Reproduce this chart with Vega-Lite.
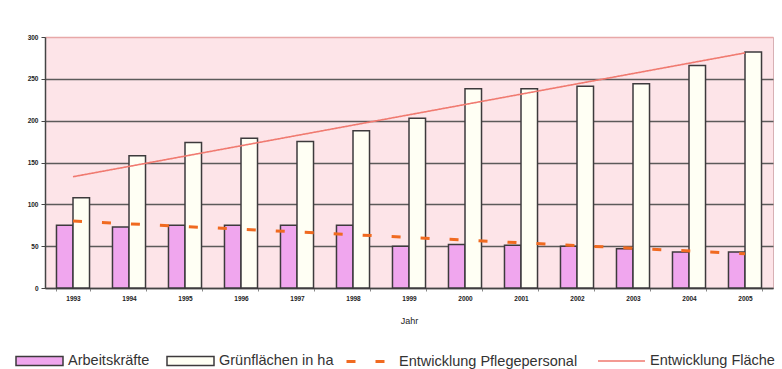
{
  "$schema": "https://vega.github.io/schema/vega-lite/v6.json",
  "width": 728,
  "height": 251,
  "autosize": {"type": "none"},
  "padding": {"left": 45, "top": 37, "right": 9, "bottom": 81},
  "background": "#ffffff",
  "config": {
    "font": "Liberation Sans",
    "view": {"fill": "#fde4e8", "stroke": "#d8b0b4", "strokeWidth": 1},
    "legend": {
      "orient": "none",
      "direction": "horizontal",
      "title": null,
      "padding": 0,
      "symbolSize": 2209,
      "labelFontSize": 14.5,
      "labelColor": "#333",
      "labelOffset": 4,
      "labelLimit": 400,
      "columnPadding": 14,
      "symbolOpacity": 1
    }
  },
  "resolve": {"scale": {"strokeDash": "independent"}, "legend": {"strokeDash": "independent"}},
  "datasets": {
    "bars": [
      {"year": 1993, "series": "Arbeitskräfte", "value": 75},
      {"year": 1994, "series": "Arbeitskräfte", "value": 73},
      {"year": 1995, "series": "Arbeitskräfte", "value": 75},
      {"year": 1996, "series": "Arbeitskräfte", "value": 75},
      {"year": 1997, "series": "Arbeitskräfte", "value": 75},
      {"year": 1998, "series": "Arbeitskräfte", "value": 75},
      {"year": 1999, "series": "Arbeitskräfte", "value": 50},
      {"year": 2000, "series": "Arbeitskräfte", "value": 52},
      {"year": 2001, "series": "Arbeitskräfte", "value": 51},
      {"year": 2002, "series": "Arbeitskräfte", "value": 50},
      {"year": 2003, "series": "Arbeitskräfte", "value": 47},
      {"year": 2004, "series": "Arbeitskräfte", "value": 43},
      {"year": 2005, "series": "Arbeitskräfte", "value": 43},
      {"year": 1993, "series": "Grünflächen in ha", "value": 108},
      {"year": 1994, "series": "Grünflächen in ha", "value": 158},
      {"year": 1995, "series": "Grünflächen in ha", "value": 174},
      {"year": 1996, "series": "Grünflächen in ha", "value": 179},
      {"year": 1997, "series": "Grünflächen in ha", "value": 175},
      {"year": 1998, "series": "Grünflächen in ha", "value": 188},
      {"year": 1999, "series": "Grünflächen in ha", "value": 203},
      {"year": 2000, "series": "Grünflächen in ha", "value": 238},
      {"year": 2001, "series": "Grünflächen in ha", "value": 238},
      {"year": 2002, "series": "Grünflächen in ha", "value": 241},
      {"year": 2003, "series": "Grünflächen in ha", "value": 244},
      {"year": 2004, "series": "Grünflächen in ha", "value": 266},
      {"year": 2005, "series": "Grünflächen in ha", "value": 282}
    ],
    "trends": [
      {"year": 1993, "trend": "Entwicklung Pflegepersonal", "value": 80},
      {"year": 2005, "trend": "Entwicklung Pflegepersonal", "value": 41},
      {"year": 1993, "trend": "Entwicklung Fläche", "value": 133},
      {"year": 2005, "trend": "Entwicklung Fläche", "value": 281}
    ]
  },
  "layer": [
    {
      "data": {"name": "bars"},
      "mark": {"type": "bar", "stroke": "#3d3a3c", "strokeWidth": 1.5},
      "encoding": {
        "x": {
          "field": "year",
          "type": "ordinal",
          "scale": {"paddingInner": 0.41, "paddingOuter": 0.205},
          "axis": {
            "title": "Jahr",
            "titleFontSize": 9,
            "titleFontWeight": "normal",
            "titleColor": "#222",
            "titlePadding": 15,
            "labelAngle": 0,
            "labelFontSize": 6.5,
            "labelFontWeight": "bold",
            "labelColor": "#222",
            "labelPadding": 4,
            "tickSize": 3,
            "tickColor": "#888",
            "tickBand": "extent",
            "domainColor": "#444",
            "domainWidth": 1.5,
            "grid": false
          }
        },
        "xOffset": {
          "field": "series",
          "type": "nominal",
          "scale": {"domain": ["Arbeitskräfte", "Grünflächen in ha"], "paddingInner": 0, "paddingOuter": 0}
        },
        "y": {
          "field": "value",
          "type": "quantitative",
          "scale": {"domain": [0, 300], "nice": false},
          "axis": {
            "title": null,
            "values": [0, 50, 100, 150, 200, 250, 300],
            "labelFontSize": 6.5,
            "labelFontWeight": "bold",
            "labelColor": "#222",
            "labelPadding": 3,
            "tickSize": 4,
            "tickColor": "#444",
            "domainColor": "#444",
            "domainWidth": 1.5,
            "gridColor": {"condition": {"test": "datum.value === 300", "value": "#e8a8a8"}, "value": "#5c5a5a"},
            "gridWidth": 1.3
          }
        },
        "fill": {
          "field": "series",
          "type": "nominal",
          "scale": {
            "domain": ["Arbeitskräfte", "Grünflächen in ha"],
            "range": ["#f0a6ee", "#fffff4"]
          },
          "legend": {
            "legendX": -30,
            "legendY": 299.5,
            "columns": 2,
            "symbolType": "M-1,-0.19H1V0.19H-1Z",
            "symbolStrokeColor": "#3d3a3c",
            "symbolStrokeWidth": 1.5
          }
        }
      }
    },
    {
      "data": {"name": "trends"},
      "transform": [{"filter": "datum.trend === 'Entwicklung Pflegepersonal'"}],
      "mark": {"type": "line", "color": "#f06a20", "strokeWidth": 3},
      "encoding": {
        "x": {"field": "year", "type": "ordinal"},
        "y": {"field": "value", "type": "quantitative"},
        "strokeDash": {
          "field": "trend",
          "type": "nominal",
          "scale": {"domain": ["Entwicklung Pflegepersonal"], "range": [[9, 20]]},
          "legend": {
            "legendX": 300,
            "legendY": 299.5,
            "symbolType": "stroke",
            "symbolStrokeColor": "#f06a20",
            "symbolStrokeWidth": 3
          }
        }
      }
    },
    {
      "data": {"name": "trends"},
      "transform": [{"filter": "datum.trend === 'Entwicklung Fläche'"}],
      "mark": {"type": "line", "color": "#f07a70", "strokeWidth": 1.6},
      "encoding": {
        "x": {"field": "year", "type": "ordinal"},
        "y": {"field": "value", "type": "quantitative"},
        "strokeDash": {
          "field": "trend",
          "type": "nominal",
          "scale": {"domain": ["Entwicklung Fläche"], "range": [[1, 0]]},
          "legend": {
            "legendX": 552,
            "legendY": 299.5,
            "symbolType": "stroke",
            "symbolStrokeColor": "#f07a70",
            "symbolStrokeWidth": 1.6
          }
        }
      }
    }
  ]
}
